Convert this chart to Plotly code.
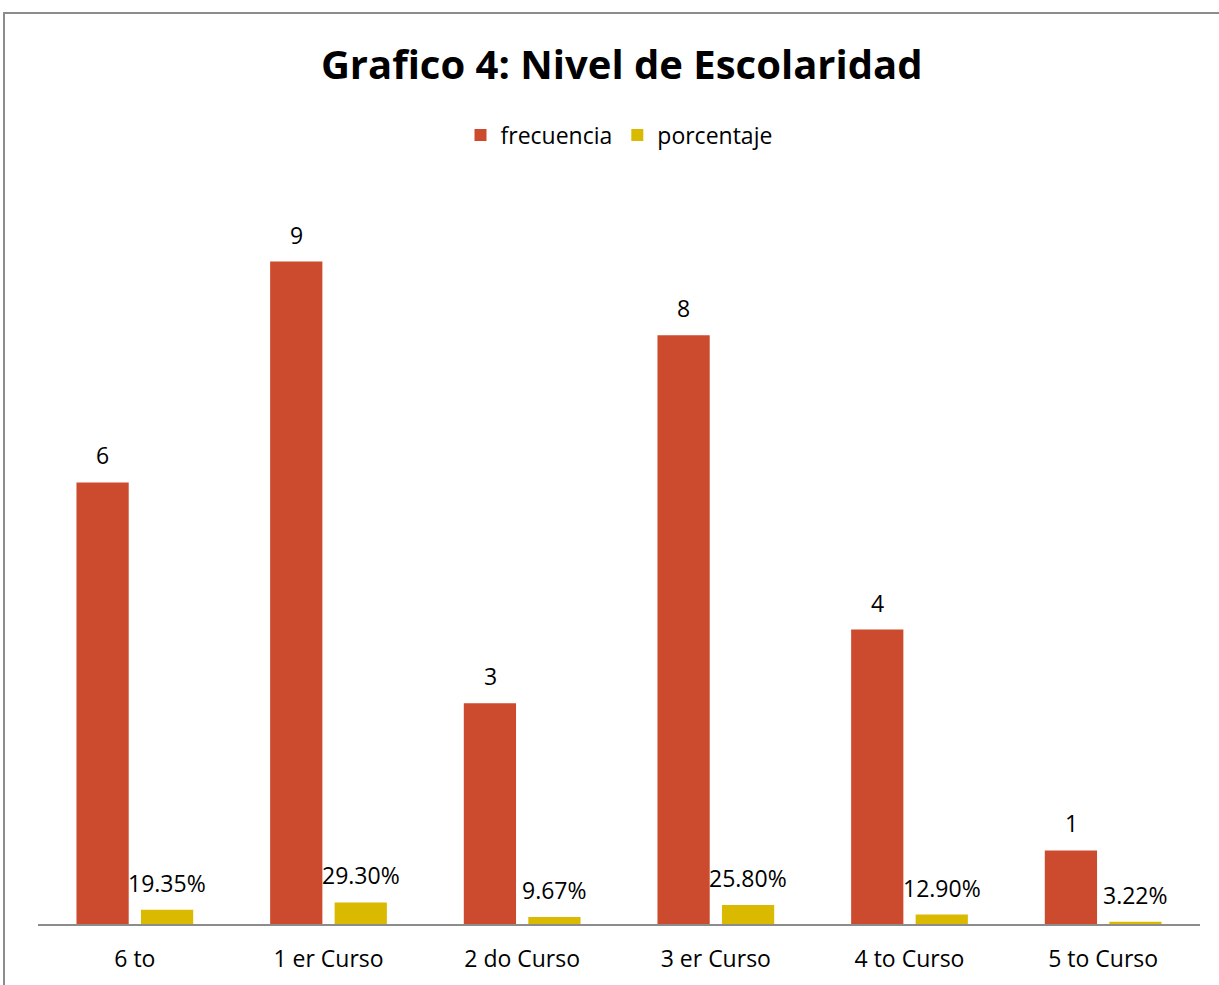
import plotly.graph_objects as go

categories = ["6 to", "1 er Curso", "2 do Curso", "3 er Curso", "4 to Curso", "5 to Curso"]
frecuencia = [6, 9, 3, 8, 4, 1]
porcentaje = [0.1935, 0.2930, 0.0967, 0.2580, 0.1290, 0.0322]
porcentaje_labels = ["19.35%", "29.30%", "9.67%", "25.80%", "12.90%", "3.22%"]

FONT = "Open Sans"
RED = "#CC4A2D"
YELLOW = "#D9BA00"

fig = go.Figure()
fig.add_trace(go.Bar(name="frecuencia", x=categories, y=frecuencia,
                     marker=dict(color=RED, line=dict(width=0))))
fig.add_trace(go.Bar(name="porcentaje", x=categories, y=porcentaje,
                     marker=dict(color=YELLOW, line=dict(width=0))))

annotations = []
for c, v in zip(categories, frecuencia):
    annotations.append(dict(x=c, y=v, xref="x", yref="y", text=str(v), showarrow=False,
                            xshift=-32, yshift=27, yanchor="middle",
                            font=dict(family=FONT, size=23, color="#000")))
for c, v, t in zip(categories, porcentaje, porcentaje_labels):
    annotations.append(dict(x=c, y=v, xref="x", yref="y", text=t, showarrow=False,
                            xshift=32, yshift=27, yanchor="middle",
                            font=dict(family=FONT, size=23, color="#000")))

fig.update_layout(
    width=1219, height=985,
    margin=dict(l=38, r=19, t=188, b=61),
    paper_bgcolor="white", plot_bgcolor="white",
    barmode="group", bargap=0.334, bargroupgap=0.19,
    title=dict(text="<b>Grafico 4: Nivel de Escolaridad</b>", x=0.51, xanchor="center",
               y=1 - 65 / 985, yanchor="middle",
               font=dict(family=FONT, size=40, color="#000")),
    legend=dict(orientation="h", x=0.5, xanchor="center", y=(924 - 135) / 736, yanchor="middle",
                font=dict(family=FONT, size=23, color="#000"), itemwidth=30,
                bgcolor="rgba(0,0,0,0)"),
    xaxis=dict(showline=True, linecolor="#8c8c8c", linewidth=1.5, ticks="",
               tickfont=dict(family=FONT, size=23, color="#000"), ticklabelstandoff=14,
               showgrid=False, zeroline=False),
    yaxis=dict(visible=False, range=[0, 10], showgrid=False, zeroline=False),
    annotations=annotations,
    shapes=[dict(type="rect", xref="paper", yref="paper",
                 x0=(4 - 38) / 1162, x1=1.1, y0=-0.3, y1=(924 - 13) / 736,
                 line=dict(color="#8c8c8c", width=2), fillcolor="rgba(0,0,0,0)", layer="below")],
)

fig.write_html("out.html", config={"displayModeBar": False},
               post_script="document.body.style.margin='0';document.body.style.overflow='hidden';")
